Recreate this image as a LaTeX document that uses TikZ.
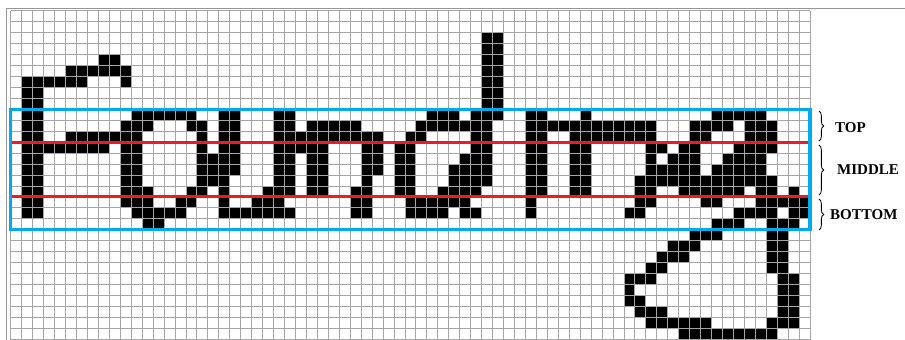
\documentclass[tikz,border=0pt]{standalone}
\usepackage{fontspec}
\setmainfont{Liberation Serif}
\usetikzlibrary{decorations.pathreplacing}
\definecolor{gridgray}{RGB}{165,165,165}
\definecolor{framegray}{RGB}{150,150,150}
\definecolor{boxblue}{RGB}{0,170,235}
\definecolor{linered}{RGB}{237,28,36}
\tikzset{
  gridline/.style={draw=gridgray, line width=0.22mm},
  cellfill/.style={fill=black},
  bluebox/.style={draw=boxblue, line width=0.95mm},
  redline/.style={draw=linered, line width=0.95mm},
  brc/.style={draw=black, line width=0.25mm, decorate, decoration={brace, amplitude=1.4mm}},
  lbl/.style={font=\bfseries\fontsize{12.8pt}{14pt}\selectfont, inner sep=0pt, anchor=west}
}
\begin{document}
\begin{tikzpicture}[x=0.3mm,y=-0.3mm]
\useasboundingbox (0,0) rectangle (905,340);
\fill[white] (0,0) rectangle (905,340);
% frame
\draw[framegray, line width=0.3mm] (6.8,340) -- (6.8,8.3) -- (905,8.3);
% black cells
\foreach \r/\cs in {
 2/{43,44},
 3/{43,44},
 4/{8,9,43,44},
 5/{5,6,7,8,9,10,43,44},
 6/{1,2,3,4,5,6,10,43,44},
 7/{1,2,43,44},
 8/{1,2,43,44},
 9/{1,2,11,12,13,14,15,16,19,20,24,25,38,39,40,42,43,44,47,48,52,64,65,66,67,68},
 10/{1,2,10,11,12,16,17,19,20,24,25,27,28,29,30,31,37,38,39,40,41,42,43,47,48,49,50,51,52,53,54,55,56,57,58,62,63,64,65,67,68,69},
 11/{1,2,5,6,7,8,9,10,11,17,19,20,24,25,26,27,28,29,30,31,32,33,36,37,42,43,47,48,51,52,53,54,55,56,57,58,62,63,67,68,69},
 12/{1,2,3,4,5,6,7,8,10,11,17,19,20,24,25,26,27,28,32,33,35,36,42,43,47,48,51,52,58,59,61,62,66,67,68,69},
 13/{1,2,10,11,17,18,19,20,24,25,27,28,32,33,35,36,41,42,43,47,48,51,52,58,60,61,62,65,66,67,68},
 14/{1,2,10,11,17,18,19,20,24,25,27,28,32,33,35,36,40,41,42,43,47,48,51,52,58,59,60,61,62,64,65,66,67,68},
 15/{1,2,10,11,17,18,19,24,25,27,28,32,35,36,40,41,42,43,47,48,51,52,57,58,59,60,61,62,63,64,65,66,67,68,69},
 16/{1,2,10,11,12,16,17,19,23,24,25,27,28,31,32,35,36,39,40,41,42,47,48,51,52,57,58,61,62,63,64,65,66,68,69,71},
 17/{1,2,10,11,12,15,16,19,22,23,24,31,32,36,37,38,39,40,41,47,57,58,63,64,68,69,70,71,72},
 18/{1,2,11,12,13,14,15,19,20,21,22,23,24,25,31,32,36,37,38,39,41,42,47,56,57,66,67,68,69,71,72},
 19/{12,13,64,65,66,69,70,71},
 20/{62,63,64,69,70},
 21/{60,61,62,69,70},
 22/{59,60,61,69,70},
 23/{58,59,69,70},
 24/{56,57,58,70,71},
 25/{56,70,71},
 26/{56,57,70,71},
 27/{57,58,59,70,71},
 28/{58,59,60,61,62,63,69,70,71},
 29/{61,62,63,64,65,66,67,68,69}}{
  \foreach \c in \cs {
    \fill[cellfill] ({10.7+\c*10.95},{10.7+\r*10.95}) rectangle ++(10.95,10.95);
  }
}
% grid
\foreach \i in {0,...,73} {
  \draw[gridline] ({10.7+\i*10.95},10.7) -- ({10.7+\i*10.95},340);
}
\foreach \j in {0,...,30} {
  \draw[gridline] (10.7,{10.7+\j*10.95}) -- (810.05,{10.7+\j*10.95});
}
% guide lines
\coordinate (rl1) at (10.7,142.1);
\coordinate (rr1) at (810.05,142.1);
\coordinate (rl2) at (10.7,196.85);
\coordinate (rr2) at (810.05,196.85);
\draw[redline] (rl1) -- (rr1);
\draw[redline] (rl2) -- (rr2);
\draw[bluebox] (10.7,109.25) rectangle (810.05,229.7);
% braces
\coordinate (bt1) at (819,111);
\coordinate (bt2) at (819,141);
\coordinate (bm1) at (819,145);
\coordinate (bm2) at (819,195);
\coordinate (bb1) at (819,199);
\coordinate (bb2) at (819,230);
\draw[brc] (bt1) -- (bt2);
\draw[brc] (bm1) -- (bm2);
\draw[brc] (bb1) -- (bb2);
\node[lbl] (top) at (835,128) {TOP};
\node[lbl] (mid) at (837,170) {MIDDLE};
\node[lbl] (bot) at (830,215) {BOTTOM};
\end{tikzpicture}
\end{document}
